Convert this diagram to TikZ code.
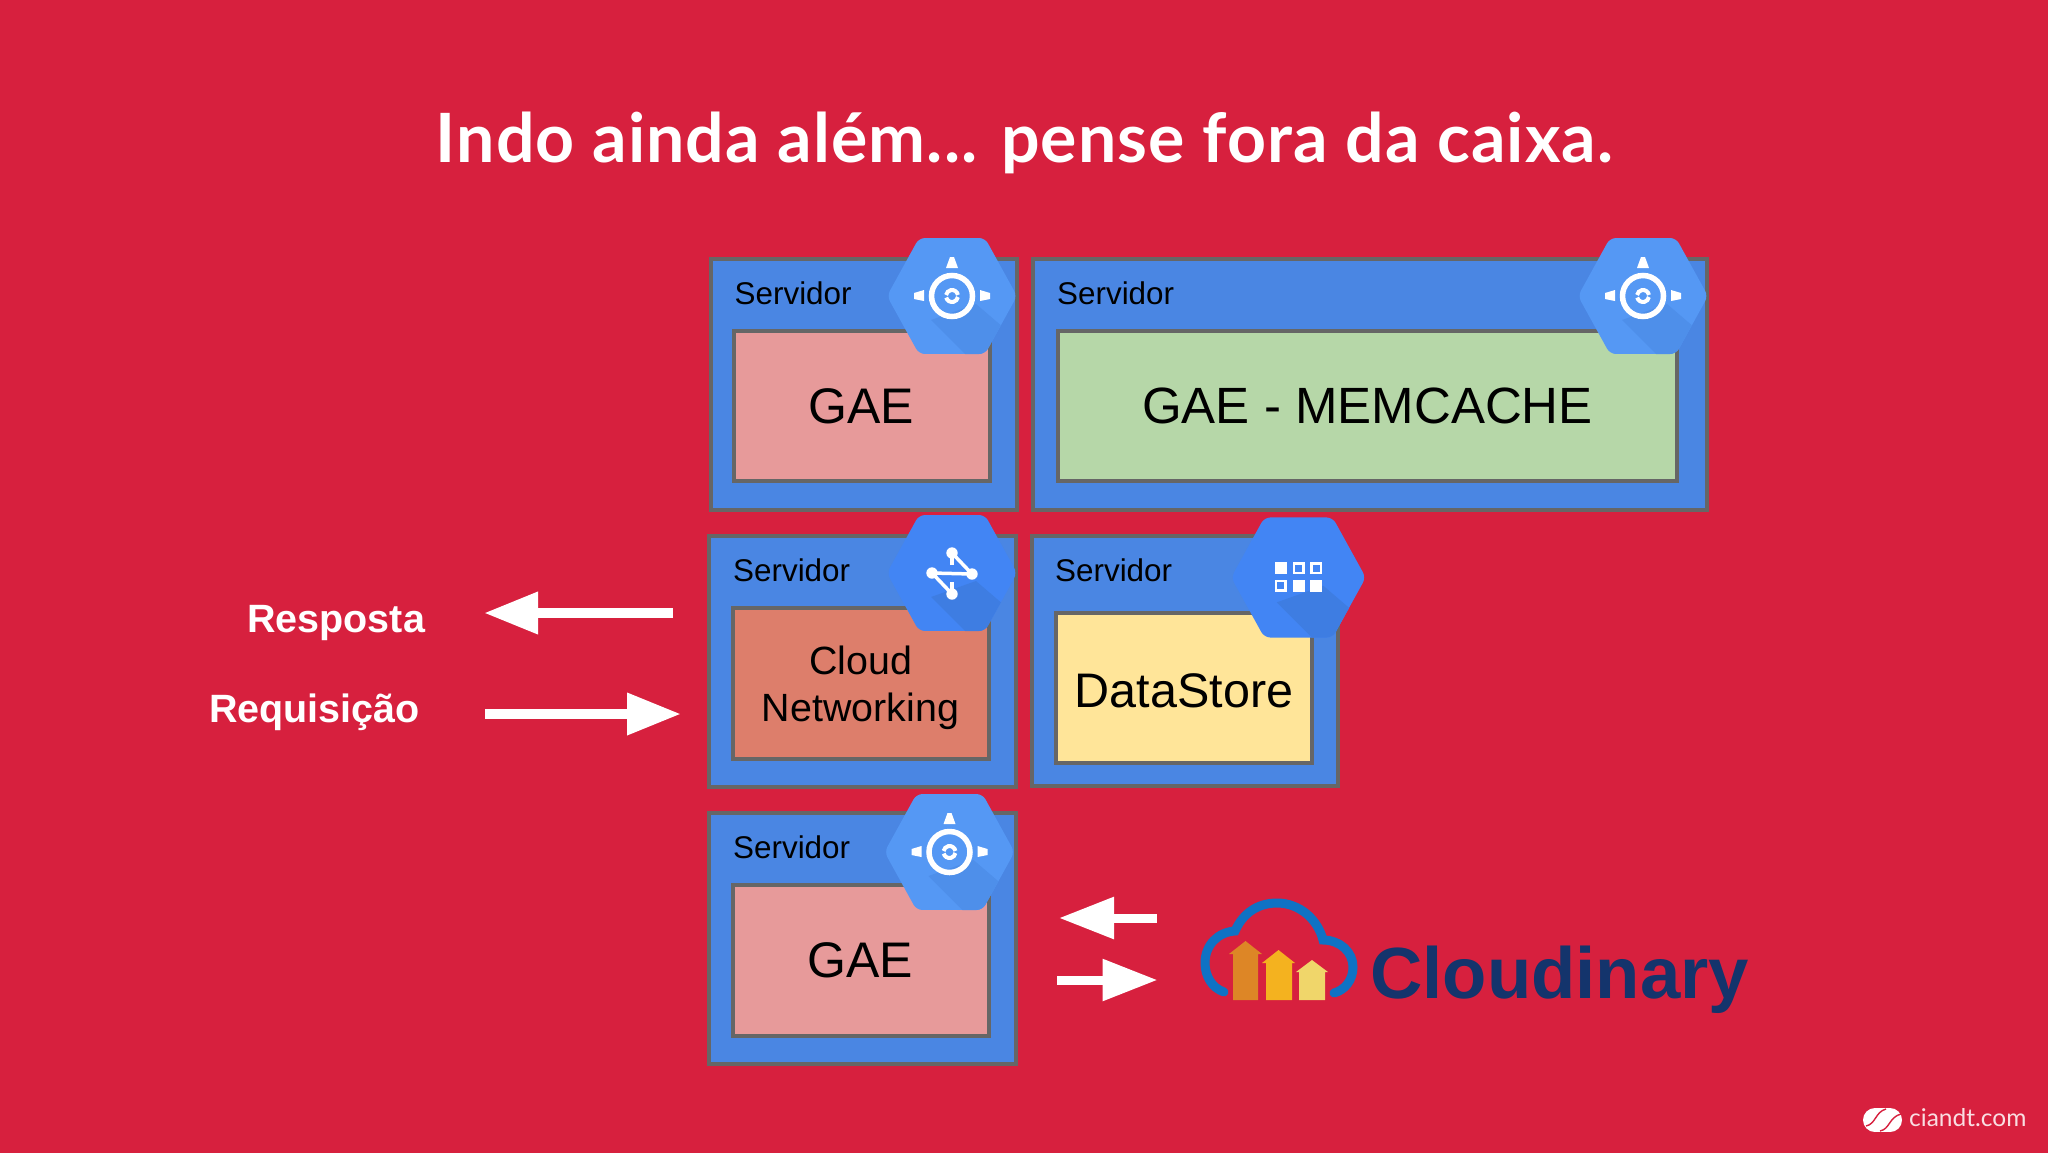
\documentclass[tikz,border=0pt]{standalone}
\usepackage{fontspec}
\usepackage{xcolor}
\setmainfont{Liberation Sans}
\newfontfamily\titlefont{Lato}[LetterSpace=1.6]
\newfontfamily\footerfont{Lato}
\usetikzlibrary{arrows.meta}
\definecolor{slide-red}{HTML}{D7203E}
\definecolor{server-blue}{HTML}{4A86E3}
\definecolor{line-grey}{HTML}{666666}
\definecolor{gae-pink}{HTML}{E79A9A}
\definecolor{cache-green}{HTML}{B6D7A8}
\definecolor{net-salmon}{HTML}{DD7E6B}
\definecolor{store-yellow}{HTML}{FFE599}
\definecolor{hex-light}{HTML}{5598F4}
\definecolor{hex-light-shade}{HTML}{4E8FEA}
\definecolor{hex-mid}{HTML}{4285F4}
\definecolor{hex-mid-shade}{HTML}{3E7DE2}
\definecolor{cloud-blue}{HTML}{0F72C4}
\definecolor{cloud-navy}{HTML}{14346C}
\definecolor{bar-orange}{HTML}{DD8626}
\definecolor{bar-amber}{HTML}{F4B21F}
\definecolor{bar-sand}{HTML}{F0D66A}
\newcommand{\hexbase}[2]{
    \begin{scope}
        \clip [rounded corners=6pt] (-65,0) -- (-33,-58) -- (33,-58) -- (65,0) -- (33,58) -- (-33,58) -- cycle;
        \fill [#1] (-65,-58) rectangle (65,58);
        \fill [#2] (-21,24) -- (14,59) -- (66,59) -- (66,44) -- (24,8) -- cycle;
    \end{scope}
}
\tikzset{
    server-box/.style = {draw=line-grey, fill=server-blue, line width=4pt, rectangle, anchor=north west, outer sep=0pt, inner sep=0pt},
    app-box/.style = {draw=line-grey, line width=4pt, rectangle, anchor=north west, outer sep=0pt, inner sep=0pt, align=center, font=\fontsize{50}{54}\selectfont},
    server-label/.style = {anchor=base west, inner sep=0pt, font=\fontsize{31.4}{36}\selectfont},
    side-label/.style = {anchor=base west, inner sep=0pt, text=white, font=\fontsize{39.5}{44}\selectfont\bfseries},
    big-arrow/.style = {draw=white, line width=10pt, -{Triangle[length=54pt,width=40pt]}},
    small-arrow/.style = {draw=white, line width=9pt, -{Triangle[length=55pt,width=40pt]}},
    pics/hex-engine/.style = {code={
        \hexbase{hex-light}{hex-light-shade}
        \draw [white, line width=5.5pt] (0,0) circle [radius=20.5pt];
        \draw [white, line width=4pt] (10:6pt) arc [start angle=10, end angle=170, radius=6pt];
        \draw [white, line width=4pt] (195:6pt) arc [start angle=195, end angle=350, radius=6pt];
        \fill [white] (-2,-39) -- (2,-39) -- (6,-28) -- (-6,-28) -- cycle;
        \fill [white] (-38,-3) -- (-28,-6) -- (-28,5) -- (-38,3) -- cycle;
        \fill [white] (38,-3) -- (28,-6) -- (28,5) -- (38,3) -- cycle;
    }},
    pics/hex-network/.style = {code={
        \hexbase{hex-mid}{hex-mid-shade}
        \draw [white, line width=3.5pt] (0,-20) -- (20,1) -- (-20,0) -- (0,21);
        \draw [white, line width=3.5pt] (0,-20) -- (0,-8);
        \draw [white, line width=3.5pt] (0,21) -- (0,9);
        \foreach \dotx/\doty in {0/-20, -20/0, 20/1, 0/21} {
            \fill [white] (\dotx,\doty) circle [radius=5.7pt];
        }
    }},
    pics/hex-grid/.style = {code={
        \hexbase{hex-mid}{hex-mid-shade}
        \foreach \cellx/\celly/\cellfill in {-17/-9/white, 0/-9/none, 17/-9/none, -17/8/none, 0/8/white, 17/8/white} {
            \draw [white, line width=2.5pt, fill=\cellfill] (\cellx-4.6,\celly-4.6) rectangle (\cellx+4.6,\celly+4.6);
        }
    }},
}

\begin{document}
\begin{tikzpicture}[x=1pt, y=-1pt]
\useasboundingbox (0,0) rectangle (2048,1152);
\fill [slide-red] (-3,-3) rectangle (2051,1155);

\node [anchor=base, inner sep=0pt, text=white, font=\titlefont\fontsize{68}{72}\selectfont\bfseries] (title) at (1024.5,162) {Indo ainda além... pense fora da caixa.};

% top row
\node [server-box, minimum width=306.5pt, minimum height=251pt] (server-gae) at (710.5,259) {};
\node [app-box, fill=gae-pink, minimum width=256pt, minimum height=150pt] (gae-top) at (733.5,331) {GAE};
\node [server-label] (label-gae) at (734.5,304) {Servidor};
\pic at (952,296) {hex-engine};

\node [server-box, minimum width=674pt, minimum height=251pt] (server-cache) at (1033,259) {};
\node [app-box, fill=cache-green, minimum width=619pt, minimum height=150pt, font=\fontsize{51}{55}\selectfont] (memcache) at (1058,331) {GAE - MEMCACHE};
\node [server-label] (label-cache) at (1057,304) {Servidor};
\pic at (1643,296) {hex-engine};

% middle row
\node [server-box, minimum width=306.5pt, minimum height=251pt] (server-net) at (709,536) {};
\node [app-box, fill=net-salmon, minimum width=256pt, minimum height=151pt] (networking) at (732.5,607.5) {};
\node [inner sep=0pt, align=center, font=\fontsize{39.4}{47}\selectfont] (networking-label) at ([yshift=-5pt]networking.center) {Cloud\\Networking};
\node [server-label] (label-net) at (733,581) {Servidor};
\pic at (952,573) {hex-network};

\node [server-box, minimum width=306pt, minimum height=250pt] (server-store) at (1032,536) {};
\node [app-box, fill=store-yellow, minimum width=256pt, minimum height=150pt] (datastore) at (1056,613) {};
\node [inner sep=0pt, font=\fontsize{48.5}{52}\selectfont] (datastore-label) at ([yshift=-2.5pt]datastore.center) {DataStore};
\node [server-label] (label-store) at (1055,581) {Servidor};
\pic [scale=1.035] at (1298.5,577.5) {hex-grid};

% bottom row
\node [server-box, minimum width=306.5pt, minimum height=251pt] (server-low) at (709,813) {};
\node [app-box, fill=gae-pink, minimum width=256pt, minimum height=151pt] (gae-low) at (732.5,885) {GAE};
\node [server-label] (label-low) at (733,858) {Servidor};
\pic at (949.5,852) {hex-engine};

% request and response
\node [side-label] (resposta) at (247,632) {Resposta};
\node [side-label] (requisicao) at (209,722) {Requisição};
\coordinate (resposta-tip) at (484,613);
\coordinate (requisicao-tail) at (485,714);
\draw [big-arrow] ([xshift=-36pt]server-net.west |- resposta-tip) -- (resposta-tip);
\draw [big-arrow] (requisicao-tail) -- ([xshift=-28pt]server-net.west |- requisicao-tail);

% cloudinary
\coordinate (cloud-tip) at (1059,918);
\coordinate (cloud-tail) at (1057,980);
\draw [small-arrow] ([xshift=141pt]server-low.east |- cloud-tip) -- (cloud-tip);
\draw [small-arrow] (cloud-tail) -- ([xshift=142pt]server-low.east |- cloud-tail);
\fill [bar-orange] (1233,1000) -- (1233,954) -- (1229,954) -- (1245.5,941) -- (1262,954) -- (1258,954) -- (1258,1000) -- cycle;
\fill [bar-amber] (1266,1000) -- (1266,963) -- (1262,963) -- (1278.5,950) -- (1295,963) -- (1292,963) -- (1292,1000) -- cycle;
\fill [bar-sand] (1299,1000) -- (1299,972) -- (1296,972) -- (1312,960) -- (1328,972) -- (1325,972) -- (1325,1000) -- cycle;
\draw [cloud-blue, line width=9pt, line cap=round] (1224,992) .. controls (1212,988) and (1205,976) .. (1205,963) .. controls (1205,945) and (1218,932) .. (1235,931) .. controls (1243,913) and (1258,903) .. (1277,903) .. controls (1300,903) and (1318,920) .. (1323,940) .. controls (1340,940) and (1353,952) .. (1353,967) .. controls (1353,980) and (1345,990) .. (1334,993);
\node [anchor=base west, inner sep=0pt, text=cloud-navy, font=\fontsize{72.5}{76}\selectfont\bfseries] (cloudinary) at (1370,998) {Cloudinary};

% footer mark
\fill [white] (1875,1120) circle [radius=12pt];
\fill [white] (1890,1120) circle [radius=12pt];
\fill [white] (1875,1108) rectangle (1890,1132);
\draw [slide-red, line width=1.4pt] (1866,1126) .. controls (1876,1124) and (1875,1112) .. (1886,1109);
\draw [slide-red, line width=1.4pt] (1880,1131) .. controls (1890,1129) and (1889,1117) .. (1901,1114);
\node [anchor=base west, inner sep=0pt, text=white!85!slide-red, font=\footerfont\fontsize{24.5}{27}\selectfont] (footer) at (1909,1126) {ciandt.com};
\end{tikzpicture}
\end{document}
